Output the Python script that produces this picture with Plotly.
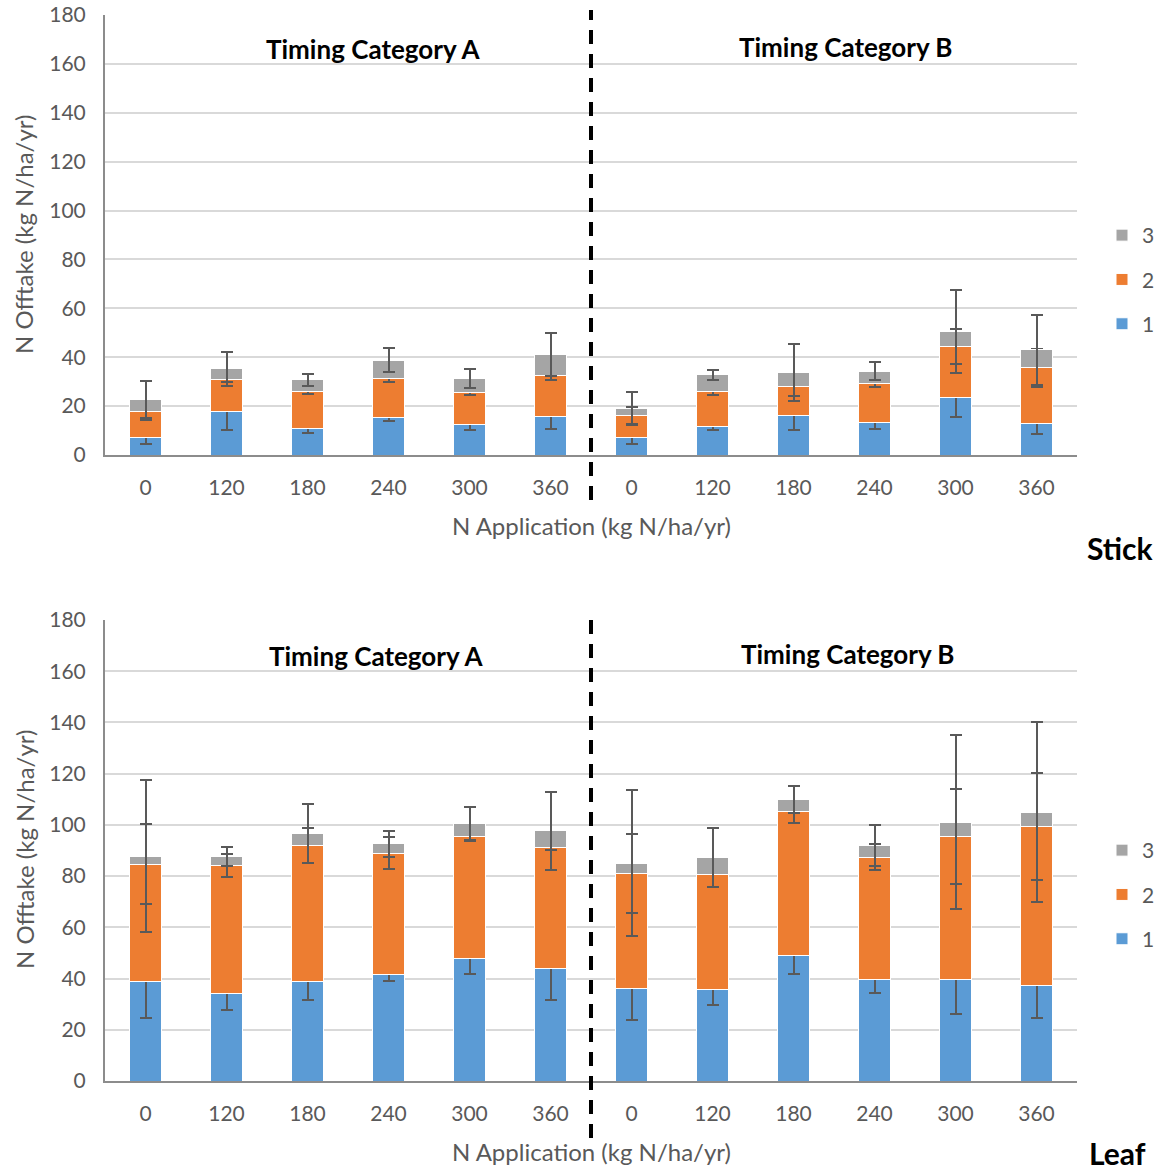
import plotly.graph_objects as go

# ---- data ----
tick_labels = ["0", "120", "180", "240", "300", "360", "0", "120", "180", "240", "300", "360"]
series_names = ["1", "2", "3"]

# Stick
stick_1 = [7.0, 17.6, 10.7, 15.3, 12.5, 15.8, 7.0, 11.5, 16.0, 13.5, 23.4, 12.8]
stick_2 = [10.9, 13.3, 15.1, 16.1, 13.2, 16.8, 9.2, 14.4, 12.1, 15.6, 21.1, 22.8]
stick_3 = [4.8, 4.3, 4.9, 7.4, 5.6, 8.5, 2.8, 6.9, 5.6, 5.2, 6.0, 7.4]
stick_e1 = [2.4, 7.2, 1.8, 1.2, 2.3, 5.1, 2.7, 1.2, 5.6, 2.7, 7.8, 4.4]
stick_e2 = [3.6, 1.0, 0.9, 1.7, 1.0, 1.8, 3.4, 1.3, 4.1, 1.2, 7.2, 7.7]
stick_e3 = [7.7, 6.8, 2.6, 4.8, 4.0, 8.9, 6.6, 2.1, 11.6, 3.8, 16.9, 14.3]

# Leaf
leaf_1 = [38.7, 34.0, 39.0, 41.7, 47.8, 43.9, 36.2, 35.6, 49.1, 39.7, 39.6, 37.3]
leaf_2 = [46.0, 50.2, 53.0, 47.2, 47.8, 47.3, 44.8, 45.1, 56.2, 47.7, 55.9, 62.0]
leaf_3 = [3.1, 3.5, 4.6, 3.8, 4.9, 6.5, 4.0, 6.5, 4.7, 4.5, 5.6, 5.7]
leaf_e1 = [14.1, 6.4, 7.2, 2.5, 5.9, 12.2, 12.2, 6.0, 7.2, 5.2, 13.4, 12.6]
leaf_e2 = [15.5, 4.4, 6.8, 6.2, 1.7, 1.1, 15.3, 5.0, 4.4, 5.0, 18.6, 20.8]
leaf_e3 = [29.8, 3.8, 11.6, 5.1, 6.5, 15.2, 28.5, 11.6, 5.3, 8.1, 33.9, 35.3]

colors = ["#5B9BD5", "#ED7D31", "#A5A5A5"]
x_pos = list(range(len(tick_labels)))

FONT = "Lato, 'Open Sans', sans-serif"
GREY_TXT = "#595959"

W, H = 1165, 1173
def py(p):  # pixel y -> paper
    return 1 - p / H
def px(p):
    return p / W

fig = go.Figure()

panels = [
    ("x", "y", "legend", "s", [stick_1, stick_2, stick_3], [stick_e1, stick_e2, stick_e3]),
    ("x2", "y2", "legend2", "l", [leaf_1, leaf_2, leaf_3], [leaf_e1, leaf_e2, leaf_e3]),
]
for xa, ya, lg, key, vals, errs in panels:
    for i, (name, v, e, c) in enumerate(zip(series_names, vals, errs, colors)):
        fig.add_trace(go.Bar(
            x=x_pos, y=v, name=name, xaxis=xa, yaxis=ya, legend=lg,
            legendgroup=key + name, legendrank=100 - i,
            marker=dict(color=c, line=dict(width=1, color="white")),
            width=0.4,
            error_y=dict(type="data", array=e, visible=True, color=GREY_TXT,
                         thickness=2, width=6),
        ))

xdom = [px(105), px(1077)]
axis_common = dict(showline=True, linecolor="#8c8c8c", linewidth=2, ticks="",
                   tickfont=dict(family=FONT, size=21, color=GREY_TXT),
                   ticklabelstandoff=13, automargin=False)
legend_common = dict(xanchor="left", yanchor="top", traceorder="grouped",
                     font=dict(family=FONT, size=21, color=GREY_TXT),
                     itemwidth=30, tracegroupgap=14, bgcolor="rgba(0,0,0,0)")
fig.update_layout(
    width=W, height=H, margin=dict(l=0, r=0, t=0, b=0, autoexpand=False),
    paper_bgcolor="white", plot_bgcolor="white",
    barmode="stack", bargap=0.6,
    showlegend=True,
    xaxis=dict(domain=xdom, anchor="y", range=[-0.5, 11.5], tickvals=x_pos,
               ticktext=tick_labels, showgrid=False, **axis_common),
    yaxis=dict(domain=[py(455), py(15)], anchor="x", range=[0, 180], dtick=20,
               showgrid=True, gridcolor="#d9d9d9", gridwidth=2, zeroline=False,
               **axis_common),
    xaxis2=dict(domain=xdom, anchor="y2", range=[-0.5, 11.5], tickvals=x_pos,
                ticktext=tick_labels, showgrid=False, **axis_common),
    yaxis2=dict(domain=[py(1081), py(620)], anchor="x2", range=[0, 180], dtick=20,
                showgrid=True, gridcolor="#d9d9d9", gridwidth=2, zeroline=False,
                **axis_common),
    legend=dict(x=px(1102), y=py(215), **legend_common),
    legend2=dict(x=px(1102), y=py(830), **legend_common),
)

# dashed separators
for xr, y0, y1 in [("x", py(500), py(10)), ("x2", py(1138), py(618))]:
    fig.add_shape(type="line", xref=xr, yref="paper", x0=5.5, x1=5.5, y0=y0, y1=y1,
                  line=dict(color="black", width=4, dash="14px,10px"))

ann = []
def add_text(text, x, y, size, color, bold=False, angle=0, xanchor="center"):
    ann.append(dict(text=f"<b>{text}</b>" if bold else text, x=px(x), y=py(y),
                    xref="paper", yref="paper", showarrow=False, xanchor=xanchor,
                    yanchor="middle", textangle=angle,
                    font=dict(family=FONT, size=size, color=color)))

add_text("Timing Category A", 373, 49, 26, "black", bold=True)
add_text("Timing Category B", 845, 47, 26, "black", bold=True)
add_text("Timing Category A", 376, 656, 26, "black", bold=True)
add_text("Timing Category B", 847, 654, 26, "black", bold=True)
add_text("N Offtake (kg N/ha/yr)", 24, 235, 24, GREY_TXT, angle=-90)
add_text("N Offtake (kg N/ha/yr)", 24, 850, 24, GREY_TXT, angle=-90)
add_text("N Application (kg N/ha/yr)", 591, 525, 24, GREY_TXT)
add_text("N Application (kg N/ha/yr)", 591, 1151, 24, GREY_TXT)
add_text("Stick", 1156, 548, 30, "black", bold=True, xanchor="right")
add_text("Leaf", 1148, 1153, 30, "black", bold=True, xanchor="right")
fig.update_layout(annotations=ann)

fig.write_html("out.html", config={"displayModeBar": False},
               post_script="document.body.style.margin='0';document.body.style.overflow='hidden';")
